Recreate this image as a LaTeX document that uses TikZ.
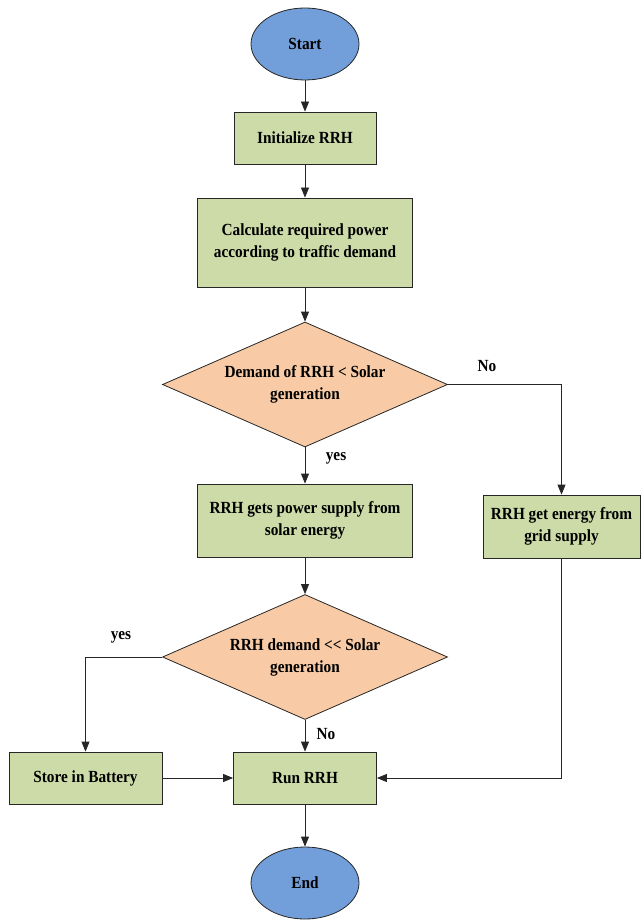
\documentclass[tikz,border=0pt]{standalone}
\usepackage{fontspec}
\setmainfont{Liberation Serif}[FakeStretch=0.9]
\usetikzlibrary{shapes.geometric}
\usetikzlibrary{arrows.meta}
\definecolor{boxgreen}{RGB}{205,219,168}
\definecolor{decorange}{RGB}{248,203,166}
\definecolor{termblue}{RGB}{114,159,217}

\tikzset{
  every node/.style={font=\fontsize{17}{22}\selectfont\bfseries, align=center, inner sep=2pt},
  procbox/.style={draw=black!85, line width=0.8pt, fill=boxgreen, rectangle},
  decbox/.style={draw=black!85, line width=0.8pt, fill=decorange, diamond, aspect=2.28,
    minimum width=285pt, minimum height=125pt},
  termbox/.style={draw=black!85, line width=0.8pt, fill=termblue, ellipse,
    minimum width=108pt, minimum height=72pt},
  flow/.style={draw=black!85, line width=0.8pt, -{Triangle[length=10pt,width=8pt]}}
}

\begin{document}
\begin{tikzpicture}[x=1pt, y=-1pt]
  \useasboundingbox (0,0) rectangle (641,920);
  % nodes
  \node[termbox] (start) at (305,44) {Start};
  \node[procbox, minimum width=142pt, minimum height=52pt] (init) at (305,138) {Initialize RRH};
  \node[procbox, minimum width=215pt, minimum height=89pt] (calc) at (305,242.5)
    {Calculate required power\\according to traffic demand};
  \node[decbox] (demand) at (305,384.5) {Demand of RRH < Solar\\generation};
  \node[procbox, minimum width=215pt, minimum height=73pt] (solar) at (305,520.5)
    {RRH gets power supply from\\solar energy};
  \node[procbox, minimum width=157pt, minimum height=63pt] (grid) at (561.5,526.5)
    {RRH get energy from\\grid supply};
  \node[decbox] (surplus) at (305,657) {RRH demand <{}< Solar\\generation};
  \node[procbox, minimum width=153pt, minimum height=52pt] (battery) at (85.5,778) {Store in Battery};
  \node[procbox, minimum width=143pt, minimum height=52pt] (run) at (305,778) {Run RRH};
  \node[termbox] (end) at (305,883) {End};
  % labels
  \node (nogrid) at (487,366) {No};
  \node (yessolar) at (336,458) {yes};
  \node (yesbat) at (121,637) {yes};
  \node (norun) at (326,734) {No};
  % connectors
  \draw[flow] (start) -- (init);
  \draw[flow] (init) -- (calc);
  \draw[flow] (calc) -- (demand);
  \draw[flow] (demand) -- (solar);
  \draw[flow] (demand.east) -| (grid.north);
  \draw[flow] (solar) -- (surplus);
  \draw[flow] (surplus.west) -| (battery.north);
  \draw[flow] (surplus) -- (run);
  \draw[flow] (battery) -- (run);
  \draw[flow] (grid.south) |- (run.east);
  \draw[flow] (run) -- (end);
\end{tikzpicture}
\end{document}
